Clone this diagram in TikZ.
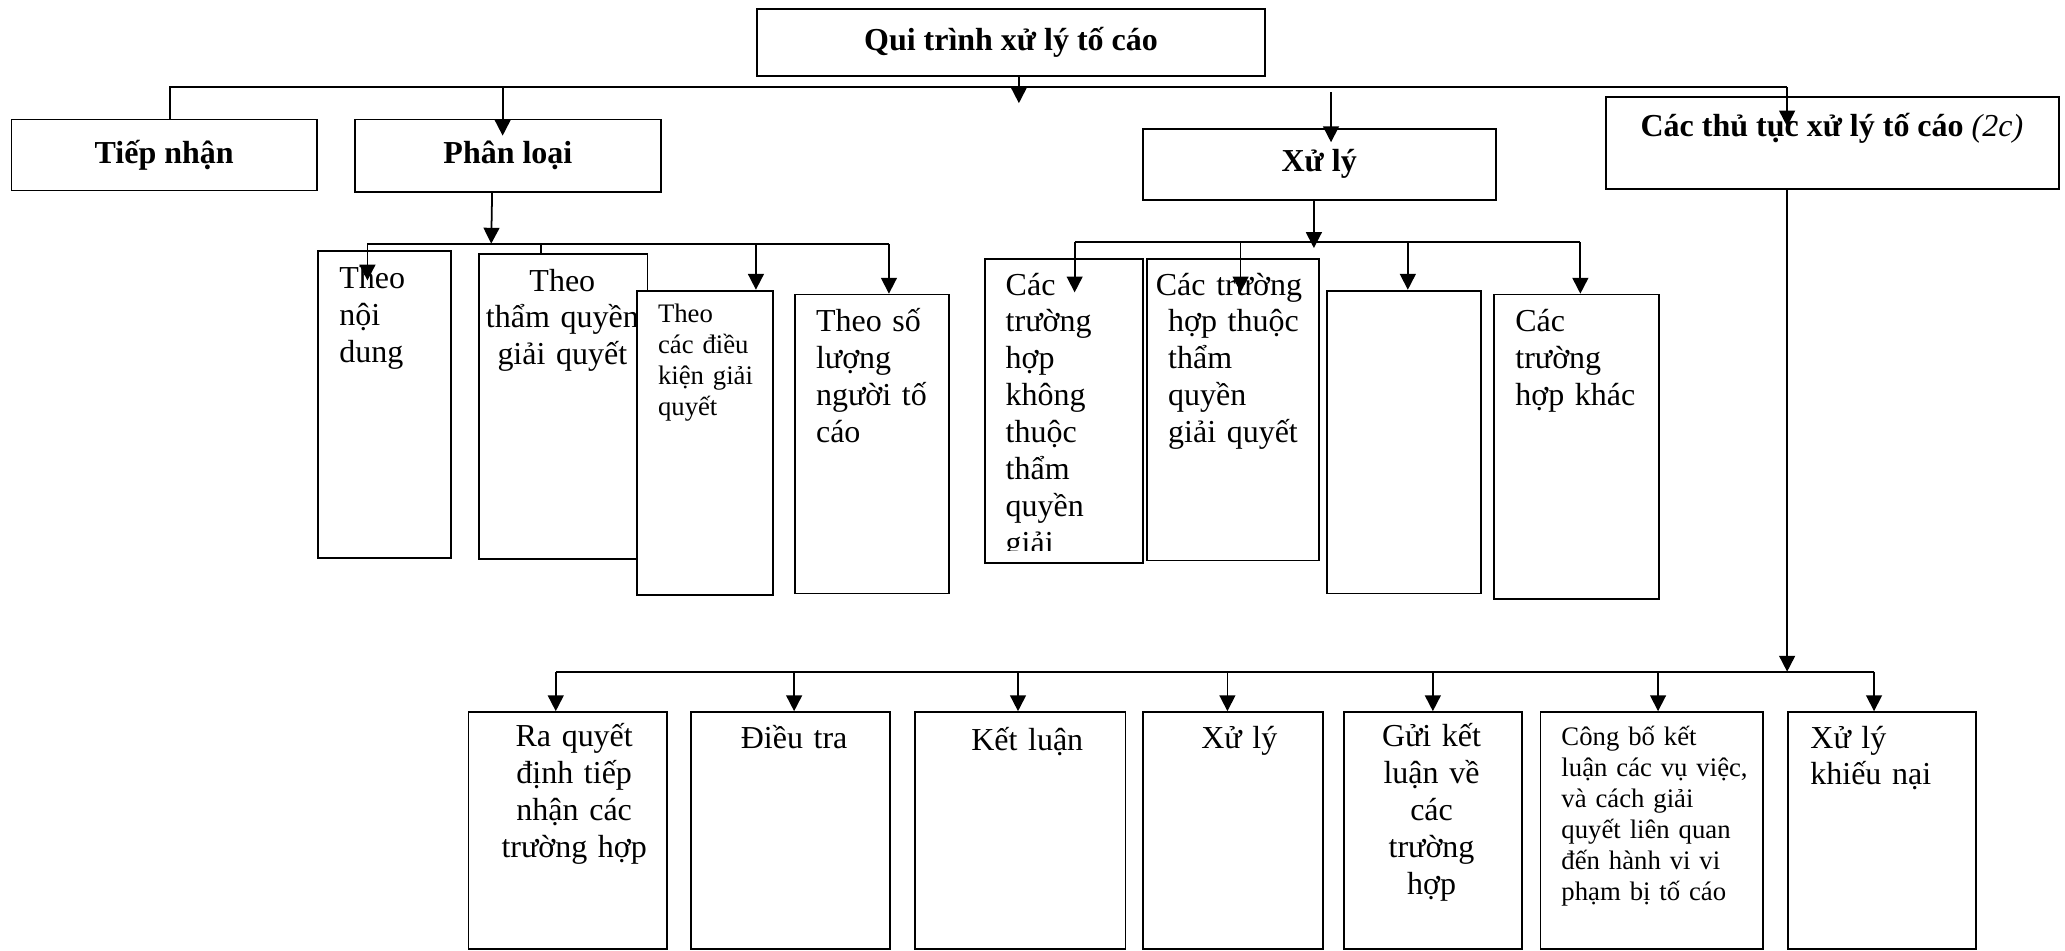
\documentclass[tikz,border=0pt]{standalone}
\usepackage{fontspec}
\setmainfont{Liberation Serif}
\usetikzlibrary{arrows.meta,calc}
\newcommand\px{0.01317cm}
\newcommand\boxfont{\fontsize{9.1pt}{10.5pt}\selectfont}
\newcommand\notefont{\fontsize{7.6pt}{8.8pt}\selectfont}

\begin{document}
\begin{tikzpicture}[x=0.01317cm, y=-0.01317cm, line width=0.5pt,
    box/.style={draw, fill=white, inner sep=0pt, anchor=north west},
    head/.style={box, font=\boxfont\bfseries},
    txt/.style={inner sep=0pt, text width=3cm, align=left, anchor=base west, font=\boxfont},
    ctxt/.style={txt, align=center, anchor=base},
    note/.style={txt, font=\notefont},
    arr/.style={-{Triangle[length=4.5pt,width=4.5pt]}}]

    \useasboundingbox (0,0) rectangle (1568,722);
    \clip (0,0) rectangle (1568,722);

    % Top level.
    \node[head, minimum width=386*\px, minimum height=51*\px] (title) at (574,6) {Qui trình xử lý tố cáo};
    \node[head, minimum width=232*\px, minimum height=54*\px] (tn) at (8,90) {Tiếp nhận};
    \node[head, minimum width=232*\px, minimum height=55*\px] (pl) at (269,90) {Phân loại};
    \node[head, minimum width=268*\px, minimum height=54*\px] (xl) at (867,97) {Xử lý};
    \node[box, minimum width=344*\px, minimum height=70*\px] (ct) at (1219,73) {};
    \node[txt, text width=, anchor=base] (ctt) at (1391,104) {\textbf{Các thủ tục xử lý tố cáo} \textit{(2c)}};

    % Phân loại.
    \node[box, minimum width=101*\px, minimum height=233*\px] (pl1) at (241,190) {};
    \node[txt] (pl1t) at (257,219) {Theo\\nội\\dung};
    \node[box, minimum width=128*\px, minimum height=232*\px] (pl2) at (363,192) {};
    \node[ctxt] (pl2t) at (427,221) {Theo\\thẩm quyền\\giải quyết};
    \node[box, minimum width=103*\px, minimum height=231*\px] (pl3) at (483,220) {};
    \node[note] (pl3t) at (499,245) {Theo\\các điều\\kiện giải\\quyết};
    \node[box, minimum width=117*\px, minimum height=227*\px] (pl4) at (603,223) {};
    \node[txt] (pl4t) at (619,252) {Theo số\\lượng\\người tố\\cáo};

    % Xử lý.
    \node[box, minimum width=120*\px, minimum height=231*\px] (xl1) at (747,196) {};
    \begin{scope}
        \clip (xl1.north west) rectangle ([yshift=4pt]xl1.south east);
        \node[txt] (xl1t) at (763,224) {Các\\trường\\hợp\\không\\thuộc\\thẩm\\quyền\\giải};
    \end{scope}
    \node[box, minimum width=131*\px, minimum height=229*\px] (xl2) at (870,196) {};
    \node[txt] (xl2t) at (877,224) {Các trường\\\hspace*{3.5pt}hợp thuộc\\\hspace*{3.5pt}thẩm\\\hspace*{3.5pt}quyền\\\hspace*{3.5pt}giải quyết};
    \node[box, minimum width=117*\px, minimum height=230*\px] (xl3) at (1007,220) {};
    \node[box, minimum width=125*\px, minimum height=231*\px] (xl4) at (1134,223) {};
    \node[txt] (xl4t) at (1150,252) {Các\\trường\\hợp khác};

    % Các thủ tục.
    \node[box, minimum width=151*\px, minimum height=180*\px] (b1) at (355,540) {};
    \node[ctxt] (b1t) at (436,567) {Ra quyết\\định tiếp\\nhận các\\trường hợp};
    \node[box, minimum width=151*\px, minimum height=180*\px] (b2) at (524,540) {};
    \node[ctxt] (b2t) at (603,568) {Điều tra};
    \node[box, minimum width=160*\px, minimum height=180*\px] (b3) at (694,540) {};
    \node[ctxt] (b3t) at (780,570) {Kết luận};
    \node[box, minimum width=137*\px, minimum height=180*\px] (b4) at (867,540) {};
    \node[ctxt] (b4t) at (941,568) {Xử lý};
    \node[box, minimum width=135*\px, minimum height=180*\px] (b5) at (1020,540) {};
    \node[ctxt] (b5t) at (1087,567) {Gửi kết\\luận về\\các\\trường\\hợp};
    \node[box, minimum width=169*\px, minimum height=180*\px] (b6) at (1169,540) {};
    \node[note] (b6t) at (1185,566) {Công bố kết\\luận các vụ việc,\\và cách giải\\quyết liên quan\\đến hành vi vi\\phạm bị tố cáo};
    \node[box, minimum width=143*\px, minimum height=180*\px] (b7) at (1357,540) {};
    \node[txt] (b7t) at (1374,568) {Xử lý\\khiếu nại};

    % Lines.
    \coordinate (busL) at (129,66);
    \coordinate (busR) at (1357,66);
    \draw (tn.north -| busL) -- (busL) -- (busR);
    \draw[arr] (title.south) ++(6,0) -- ++(0,20);
    \draw[arr] (pl.north |- busL) ++(-4,0) -- ++(0,37);
    \draw[arr] (xl.north |- busL) ++(9,4) -- ++(0,38);
    \draw[arr] (busR) -- ++(0,30);

    \coordinate (plL) at (279,185);
    \coordinate (plR) at (675,185);
    \draw (plL) -- (plR);
    \draw[arr] (pl.south) ++(-12,0) -- (plL -| 373,0);
    \foreach \n/\x/\d in {pl1/279/23, pl3/574/0, pl4/675/0}
        \draw[arr] (plL -| \x,0) -- ($(\n.north -| \x,0)+(0,\d)$);
    \draw (plL -| 411,0) -- (pl2.north -| 411,0);

    \coordinate (xlL) at (816,184);
    \coordinate (xlR) at (1200,184);
    \draw (xlL) -- (xlR);
    \draw[arr] (xl.south) ++(-4,0) -- ++(0,36);
    \foreach \n/\x/\d in {xl1/816/26, xl2/942/26, xl3/1069/0, xl4/1200/0}
        \draw[arr] (xlL -| \x,0) -- ($(\n.north -| \x,0)+(0,\d)$);

    \coordinate (bL) at (422,510);
    \coordinate (bR) at (1423,510);
    \draw[arr] (ct.south -| busR) -- (bL -| busR);
    \draw (bL) -- (bR);
    \foreach \n/\x in {b1/422, b2/603, b3/773, b4/932, b5/1088, b6/1259, b7/1423}
        \draw[arr] (bL -| \x,0) -- (\n.north -| \x,0);
\end{tikzpicture}
\end{document}
